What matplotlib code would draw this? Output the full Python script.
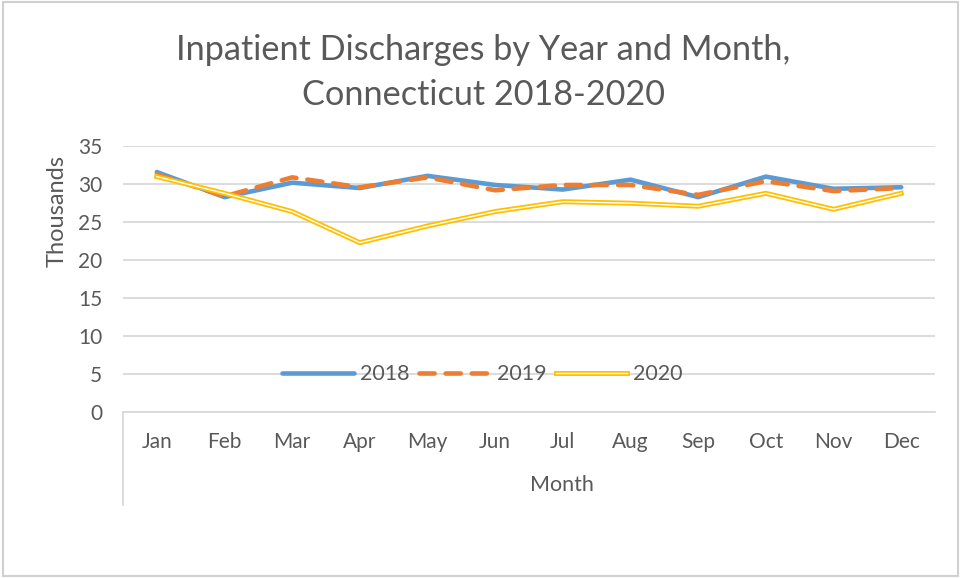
import matplotlib.pyplot as plt
import matplotlib.patheffects as pe
from matplotlib.patches import Rectangle
from matplotlib.lines import Line2D

plt.rcParams['font.family'] = ['Lato', 'DejaVu Sans']

months = ['Jan', 'Feb', 'Mar', 'Apr', 'May', 'Jun',
          'Jul', 'Aug', 'Sep', 'Oct', 'Nov', 'Dec']
# thousands of discharges
y2018 = [31.6, 28.3, 30.2, 29.5, 31.1, 29.9, 29.3, 30.6, 28.3, 31.0, 29.4, 29.6]
y2019 = [31.3, 28.4, 30.9, 29.6, 30.9, 29.2, 29.9, 29.9, 28.6, 30.4, 29.1, 29.5]
y2020 = [31.0, 28.8, 26.4, 22.3, 24.5, 26.4, 27.7, 27.5, 27.1, 28.8, 26.7, 28.8]
yticks = [0, 5, 10, 15, 20, 25, 30, 35]

txt = '#595959'
grid = '#D9D9D9'

fig = plt.figure(figsize=(9.61, 5.78), dpi=100)
ax = fig.add_axes([0.128, 0.287, 0.845, 0.46])

x = list(range(len(months)))
ax.plot(x, y2018, color='#5B9BD5', lw=3.3, solid_capstyle='round',
        solid_joinstyle='round', label='2018', zorder=3)
ax.plot(x, y2019, color='#ED7D31', lw=3.3, dashes=(3.3, 2.4),
        dash_capstyle='round', dash_joinstyle='round', label='2019', zorder=4)
ax.plot(x, y2020, color='white', lw=1.0, label='2020', zorder=5,
        solid_joinstyle='round',
        path_effects=[pe.Stroke(linewidth=3.6, foreground='#FFC000'), pe.Normal()])

ax.set_xlim(-0.5, 11.5)
ax.set_ylim(0, 35)
ax.set_yticks(yticks)
ax.set_xticks(x)
ax.set_xticklabels(months)
ax.tick_params(axis='both', length=0, colors=txt, labelsize=15)
ax.tick_params(axis='y', pad=15)
ax.tick_params(axis='x', pad=14)
ax.grid(axis='y', color=grid, lw=1.3)
ax.set_axisbelow(True)
for s in ['top', 'right', 'left']:
    ax.spines[s].set_visible(False)
ax.spines['bottom'].set_color(grid)
ax.spines['bottom'].set_linewidth(1.3)

# category axis frame line on the left
ax.add_line(Line2D([-0.5, -0.5], [0, -12.2], color=grid, lw=1.3, clip_on=False))

ax.set_ylabel('Thousands', color=txt, fontsize=17)
ax.yaxis.set_label_coords(-0.068, 0.755)
ax.set_xlabel('Month', color=txt, fontsize=15.5, labelpad=17)
ax.xaxis.label.set_x(0.54)

fig.suptitle('Inpatient Discharges by Year and Month,\nConnecticut 2018-2020',
             color=txt, fontsize=24.7, x=0.503, y=0.942, linespacing=1.5)

leg = ax.legend(loc='center', bbox_to_anchor=(0.443, 0.143), ncol=3, frameon=False,
                fontsize=15.5, handlelength=3.3, columnspacing=0.45, handletextpad=0.3)
for t in leg.get_texts():
    t.set_color(txt)

fig.add_artist(Rectangle((0.003, 0.003), 0.994, 0.994, transform=fig.transFigure,
                         fill=False, edgecolor='#D0D0D0', lw=1.5))

fig.savefig('out.png', dpi=100)
